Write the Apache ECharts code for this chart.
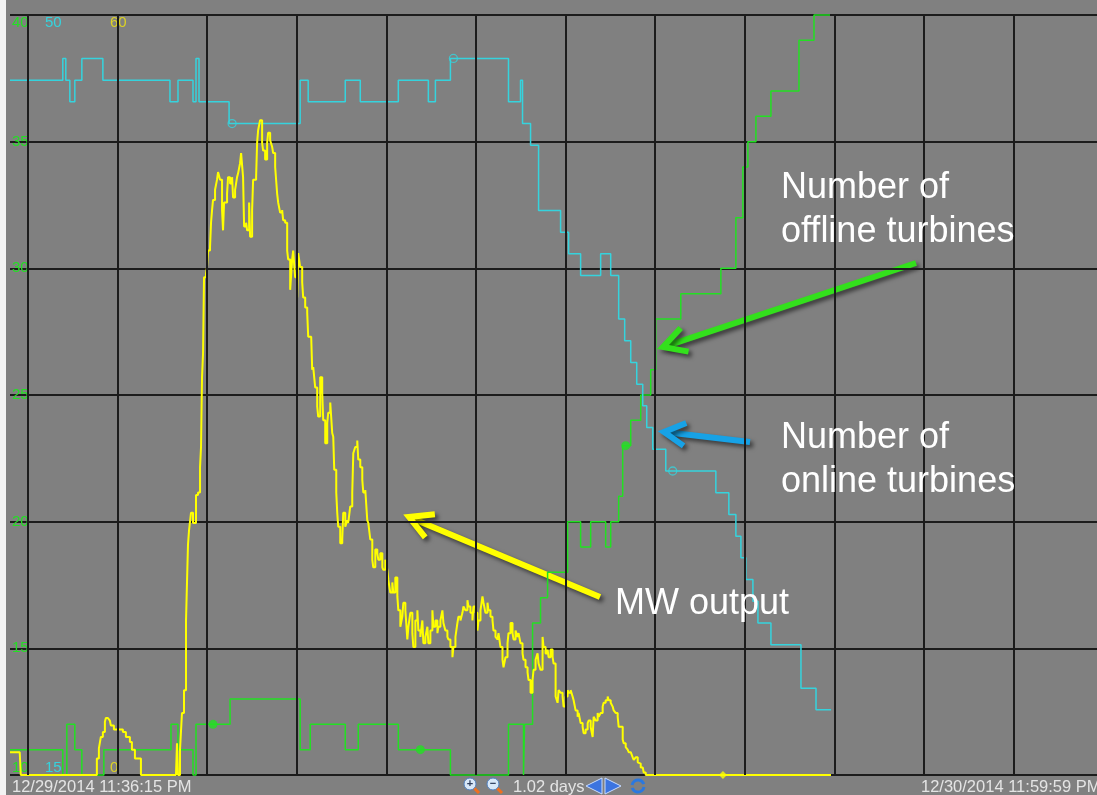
<!DOCTYPE html>
<html><head><meta charset="utf-8">
<script src="https://cdn.jsdelivr.net/npm/echarts@6/dist/echarts.min.js"></script>
<style>html,body{margin:0;padding:0;background:#fff;}#c{width:1097px;height:795px;}</style>
</head><body><div id="c"></div>
<script>
// x values: hours since 12/30/2014 00:00 (visible part of the 1.02-day window)
const timeRange = [-0.396, 23.856];
const gridHours = [0, 2, 4, 6, 8, 10, 12, 14, 16, 18, 20, 22];
const offlineTicks = [10, 40, 5];   // min, max, step (green axis)
const onlineTicks = [15, 50];       // cyan axis
const mwTicks = [0, 60];            // yellow axis
const startLabel = '12/29/2014 11:36:15 PM';
const endLabel = '12/30/2014 11:59:59 PM';
const spanLabel = '1.02 days';

// Number of online turbines (step, value holds until next point)
const onlineTurbines = [
[-0.396,47],[0.782,48],[0.849,47],[0.939,46],[1.050,47],[1.207,48],[1.676,47],[3.173,46],[3.352,47],
[3.687,46],[3.754,48],[3.821,46],[4.492,45],[6.078,47],[6.257,46],[7.084,47],[7.419,46],[8.268,47],
[8.938,46],[9.095,47],[9.430,48],[10.726,46],[10.994,47],[11.039,45],[11.218,44],[11.397,41],
[11.888,40],[12.067,39],[12.335,38],[12.782,39],[13.006,38],[13.184,36],[13.318,35],[13.453,34],
[13.587,33],[13.721,32],[13.810,31],[13.944,30],[14.235,29],[15.352,28],[15.642,27],[15.799,26],
[15.911,25],[16.022,24],[16.179,23],[16.291,22],[16.581,21],[17.251,19],[17.587,18],[17.922,18]
];
// Number of offline turbines
const offlineTurbines = [
[-0.396,11],[0.782,10],[0.872,12],[1.050,11],[1.207,10],[1.698,11],[3.196,12],[3.352,11],[3.687,10],
[3.754,12],[4.514,13],[6.078,11],[6.302,12],[7.084,11],[7.374,12],[8.268,11],[9.430,10],[10.726,12],
[11.061,10],[11.084,12],[11.263,16],[11.441,17],[11.598,18],[12.045,20],[12.335,19],[12.559,20],
[12.894,19],[13.006,20],[13.184,21],[13.274,23],[13.453,24],[13.676,25],[13.899,26],[14.011,28],
[14.570,29],[15.464,30],[15.799,32],[15.955,34],[16.067,35],[16.246,36],[16.581,37],[17.207,39],
[17.542,40],[17.899,40]
];
// MW output
const mwOutput = [
[-0.396,1.8],[-0.179,1.8],[-0.156,0],[1.497,0],[1.542,1.3],[1.587,2.1],[1.631,3.0],[1.676,3.4],[1.721,4.2],[1.743,4.5],[1.788,4.6],[1.832,4.3],[1.855,3.9],[1.922,3.6],[1.966,3.6],[2.056,3.6],[2.123,3.4],[2.190,3.0],[2.279,2.6],[2.324,2.0],[2.391,1.3],[2.458,1.3],[2.525,0],[3.307,0],[3.330,2.5],[3.352,0],[3.397,2.0],[3.441,4.9],[3.486,6.7],[3.531,12.2],[3.575,18.2],[3.598,19.3],[3.642,20.7],[3.687,19.9],[3.754,22.1],[3.799,22.3],[3.844,24.3],[3.866,25.9],[3.888,31.4],[3.911,33.3],[3.933,39.3],[3.978,39.6],[4.000,40.1],[4.022,41.4],[4.067,41.7],[4.089,43.6],[4.112,44.6],[4.134,45.4],[4.179,46.2],[4.223,47.0],[4.246,47.6],[4.290,47.0],[4.335,44.6],[4.357,43.0],[4.380,45.2],[4.447,45.9],[4.469,47.2],[4.514,46.7],[4.559,47.2],[4.581,45.6],[4.626,46.2],[4.670,47.2],[4.693,47.5],[4.737,48.3],[4.760,49.1],[4.804,47.2],[4.827,43.3],[4.872,43.6],[4.894,43.0],[4.939,45.2],[4.961,42.5],[5.006,44.6],[5.028,47.0],[5.095,47.2],[5.117,49.9],[5.140,50.9],[5.184,51.7],[5.229,49.9],[5.251,49.3],[5.296,48.6],[5.341,49.9],[5.363,50.7],[5.408,50.1],[5.452,49.6],[5.475,49.1],[5.520,48.0],[5.564,45.9],[5.587,45.2],[5.631,44.4],[5.676,44.6],[5.698,43.8],[5.743,43.6],[5.788,41.4],[5.810,40.7],[5.855,38.3],[5.899,40.7],[5.922,41.4],[5.966,39.3],[6.011,37.7],[6.034,41.2],[6.078,40.1],[6.123,38.9],[6.145,37.7],[6.190,36.9],[6.235,36.5],[6.257,34.6],[6.324,34.6],[6.346,32.0],[6.369,32.2],[6.413,30.6],[6.458,29.1],[6.480,28.3],[6.525,31.4],[6.570,30.2],[6.592,28.0],[6.637,26.2],[6.682,27.8],[6.704,28.6],[6.749,29.4],[6.793,27.0],[6.816,26.7],[6.838,24.1],[6.883,22.3],[6.905,20.7],[6.927,19.6],[6.972,18.3],[7.017,18.6],[7.039,20.7],[7.084,19.6],[7.128,20.1],[7.151,19.9],[7.195,21.2],[7.240,22.3],[7.263,25.4],[7.307,25.9],[7.352,26.4],[7.374,24.9],[7.419,24.3],[7.464,23.3],[7.486,22.3],[7.531,22.5],[7.575,20.1],[7.598,19.9],[7.642,18.6],[7.687,17.0],[7.709,16.4],[7.754,17.8],[7.799,17.5],[7.821,17.0],[7.866,17.5],[7.911,16.4],[7.933,16.2],[7.978,17.0],[8.022,16.2],[8.045,15.4],[8.089,14.4],[8.134,15.2],[8.156,14.4],[8.201,15.6],[8.246,14.1],[8.268,13.0],[8.313,11.7],[8.357,12.5],[8.380,13.6],[8.425,13.0],[8.469,10.7],[8.492,11.7],[8.536,12.8],[8.581,11.2],[8.603,10.1],[8.648,12.2],[8.693,13.0],[8.715,11.4],[8.760,10.9],[8.804,12.2],[8.827,10.4],[8.872,10.9],[8.916,11.7],[8.938,10.4],[8.983,11.4],[9.028,13.0],[9.050,11.7],[9.095,12.2],[9.140,11.2],[9.162,11.7],[9.207,12.2],[9.251,13.0],[9.274,12.0],[9.318,11.4],[9.363,10.9],[9.385,10.7],[9.430,10.1],[9.475,9.3],[9.497,10.1],[9.542,10.9],[9.586,12.0],[9.609,12.5],[9.654,12.2],[9.698,12.8],[9.721,13.3],[9.765,13.0],[9.810,13.8],[9.832,13.3],[9.877,12.8],[9.922,12.2],[9.944,13.3],[9.989,12.8],[10.034,11.4],[10.056,12.2],[10.101,13.0],[10.145,14.1],[10.168,13.6],[10.212,12.8],[10.257,13.6],[10.279,13.0],[10.324,12.5],[10.369,12.2],[10.391,11.4],[10.436,10.9],[10.480,10.7],[10.503,11.2],[10.547,10.1],[10.592,9.1],[10.615,8.5],[10.659,9.3],[10.704,10.4],[10.726,11.2],[10.771,12.0],[10.816,11.2],[10.838,10.7],[10.883,11.4],[10.927,10.9],[10.950,11.2],[10.994,10.4],[11.039,9.6],[11.061,9.1],[11.106,8.5],[11.151,8.1],[11.173,7.5],[11.218,6.5],[11.263,7.5],[11.285,8.3],[11.330,9.1],[11.374,9.6],[11.397,8.8],[11.441,8.3],[11.486,10.9],[11.508,10.1],[11.553,9.6],[11.598,9.9],[11.620,9.3],[11.665,9.9],[11.710,9.3],[11.732,8.8],[11.777,6.2],[11.821,5.7],[11.844,6.7],[11.888,6.5],[11.933,6.2],[11.955,5.4],[12.000,6.2],[12.045,6.7],[12.067,6.5],[12.112,6.7],[12.156,6.2],[12.179,5.9],[12.223,5.1],[12.268,4.6],[12.291,4.9],[12.335,4.1],[12.380,3.8],[12.402,3.3],[12.447,3.6],[12.492,4.1],[12.514,4.3],[12.559,3.8],[12.603,3.0],[12.626,4.6],[12.670,4.3],[12.715,4.9],[12.738,4.6],[12.782,4.9],[12.827,5.4],[12.849,5.7],[12.894,5.9],[12.939,6.2],[12.961,5.9],[13.006,5.7],[13.050,5.4],[13.073,5.1],[13.117,4.9],[13.162,4.6],[13.184,3.8],[13.229,3.8],[13.274,2.8],[13.296,2.5],[13.341,2.2],[13.385,2.0],[13.408,1.8],[13.453,1.7],[13.497,1.4],[13.520,1.2],[13.564,1.4],[13.609,1.0],[13.631,0.9],[13.676,0.6],[13.721,0.6],[13.743,0.2],[13.788,0],[17.921,0]
];
const onlineMarkers = [[4.559,45],[9.497,48],[14.39,29]];
const offlineMarkers = [[4.134,12],[8.760,11],[13.341,23]];
const mwMarkers = [[15.51,0]];

const annotations = [
  {text:'Number of\noffline turbines'},
  {text:'Number of\nonline turbines'},
  {text:'MW output'}
];

const FONT = 'Liberation Sans, Arial, sans-serif';
const GREEN = '#22e022', CYAN = '#35d3dd', YEL = '#ffff00';
const GRIDC = '#1c1c1c';

function arrow(x1, y1, x2, y2, color, w, L, sp) {
  const a = Math.atan2(y1 - y2, x1 - x2);
  const p1 = [x2 + L * Math.cos(a + sp), y2 + L * Math.sin(a + sp)];
  const p2 = [x2 + L * Math.cos(a - sp), y2 + L * Math.sin(a - sp)];
  const sh = {shadowBlur: 4, shadowColor: 'rgba(0,0,0,0.55)', shadowOffsetX: 3, shadowOffsetY: 3};
  return {type: 'group', z: 100, children: [
    {type: 'line', shape: {x1: x1, y1: y1, x2: x2 + 3 * Math.cos(a), y2: y2 + 3 * Math.sin(a)}, style: Object.assign({stroke: color, lineWidth: w, lineCap: 'butt'}, sh)},
    {type: 'polyline', shape: {points: [p1, [x2, y2], p2]}, style: Object.assign({stroke: color, lineWidth: w, fill: null, lineJoin: 'miter', lineCap: 'butt'}, sh)}
  ]};
}

const chart = echarts.init(document.getElementById('c'), null, {renderer: 'canvas'});
const textStyle = {fill: '#ffffff', font: '36px ' + FONT};
const option = {
  backgroundColor: '#808080',
  animation: false,
  grid: {left: 10, top: 15, right: 0, bottom: 20, containLabel: false},
  xAxis: {type: 'value', min: timeRange[0], max: timeRange[1], show: false},
  yAxis: [
    {type: 'value', min: offlineTicks[0], max: offlineTicks[1], interval: offlineTicks[2], position: 'left',
     axisLine: {show: true, lineStyle: {color: GRIDC, width: 2}}, axisTick: {show: false},
     splitLine: {show: true, lineStyle: {color: GRIDC, width: 2}},
     axisLabel: {inside: true, margin: 2, color: GREEN, fontSize: 15, fontFamily: FONT,
       verticalAlignMaxLabel: 'top', verticalAlignMinLabel: 'bottom'}},
    {type: 'value', min: onlineTicks[0], max: onlineTicks[1], interval: onlineTicks[1] - onlineTicks[0], position: 'left',
     axisLine: {show: false}, axisTick: {show: false}, splitLine: {show: false},
     axisLabel: {inside: true, margin: 35, color: CYAN, fontSize: 15, fontFamily: FONT,
       verticalAlignMaxLabel: 'top', verticalAlignMinLabel: 'bottom'}},
    {type: 'value', min: mwTicks[0], max: mwTicks[1], interval: mwTicks[1] - mwTicks[0], position: 'left',
     axisLine: {show: false}, axisTick: {show: false}, splitLine: {show: false},
     axisLabel: {inside: true, margin: 100, color: '#dcd224', fontSize: 15, fontFamily: FONT,
       verticalAlignMaxLabel: 'top', verticalAlignMinLabel: 'bottom'}}
  ],
  series: [
    {type: 'line', name: 'grid', data: [], z: 1, silent: true,
     markLine: {silent: true, symbol: 'none', label: {show: false}, animation: false,
       lineStyle: {color: GRIDC, width: 2, type: 'solid'},
       data: gridHours.map(h => ({xAxis: h}))}},
    {type: 'line', name: 'Offline turbines', yAxisIndex: 0, data: offlineTurbines, step: 'end', showSymbol: false,
     clip: false, lineStyle: {color: GREEN, width: 1.5}, z: 3},
    {type: 'line', name: 'Online turbines', yAxisIndex: 1, data: onlineTurbines, step: 'end', showSymbol: false,
     clip: false, lineStyle: {color: CYAN, width: 1.5}, z: 3},
    {type: 'line', name: 'MW output', yAxisIndex: 2, data: mwOutput, step: 'end', showSymbol: false,
     clip: false, lineStyle: {color: YEL, width: 2}, z: 4},
    {type: 'scatter', yAxisIndex: 1, data: onlineMarkers, symbol: 'circle', symbolSize: 8, z: 5,
     itemStyle: {color: 'rgba(0,0,0,0)', borderColor: CYAN, borderWidth: 1.3}},
    {type: 'scatter', yAxisIndex: 0, data: offlineMarkers, symbol: 'circle', symbolSize: 9, z: 5,
     itemStyle: {color: GREEN}},
    {type: 'scatter', yAxisIndex: 2, data: mwMarkers, symbol: 'diamond', symbolSize: 8, z: 5,
     itemStyle: {color: YEL}}
  ],
  graphic: [
    {type: 'rect', shape: {x: 0, y: 0, width: 6, height: 795}, style: {fill: '#f3f3f3'}, z: 50},
    {type: 'text', x: 12, y: 787, style: {text: startLabel, fill: '#e4e4e4', font: '16.5px ' + FONT, textVerticalAlign: 'middle'}, z: 50},
    {type: 'text', x: 921, y: 787, style: {text: endLabel, fill: '#e4e4e4', font: '16.5px ' + FONT, textVerticalAlign: 'middle'}, z: 50},
    {type: 'text', x: 513, y: 787, style: {text: spanLabel, fill: '#e4e4e4', font: '16.5px ' + FONT, textVerticalAlign: 'middle'}, z: 50},
    // zoom-in / zoom-out icons
    {type: 'line', shape: {x1: 474, y1: 788, x2: 479, y2: 793}, style: {stroke: '#f07020', lineWidth: 3}, z: 50},
    {type: 'circle', shape: {cx: 470, cy: 784, r: 6}, style: {fill: '#d8e8f8', stroke: '#5080c0', lineWidth: 1}, z: 51},
    {type: 'text', x: 470, y: 784, style: {text: '+', fill: '#304060', font: 'bold 11px ' + FONT, textAlign: 'center', textVerticalAlign: 'middle'}, z: 52},
    {type: 'line', shape: {x1: 497, y1: 788, x2: 502, y2: 793}, style: {stroke: '#f07020', lineWidth: 3}, z: 50},
    {type: 'circle', shape: {cx: 493, cy: 784, r: 6}, style: {fill: '#d8e8f8', stroke: '#5080c0', lineWidth: 1}, z: 51},
    {type: 'text', x: 493, y: 784, style: {text: '−', fill: '#304060', font: 'bold 11px ' + FONT, textAlign: 'center', textVerticalAlign: 'middle'}, z: 52},
    // nav triangles
    {type: 'polygon', shape: {points: [[586, 786], [602, 778], [602, 794]]}, style: {fill: '#3c74e0', stroke: '#c8dcff', lineWidth: 1}, z: 50},
    {type: 'polygon', shape: {points: [[605, 778], [605, 794], [621, 786]]}, style: {fill: '#3c74e0', stroke: '#c8dcff', lineWidth: 1}, z: 50},
    {type: 'arc', shape: {cx: 638, cy: 786, r: 6, startAngle: Math.PI * 1.05, endAngle: Math.PI * 1.9}, style: {stroke: '#2a78e0', lineWidth: 3, fill: null}, z: 50},
    {type: 'arc', shape: {cx: 638, cy: 786, r: 6, startAngle: Math.PI * 0.05, endAngle: Math.PI * 0.9}, style: {stroke: '#2a78e0', lineWidth: 3, fill: null}, z: 50},
    // annotations
    {type: 'text', x: 781, y: 166, z: 100, style: Object.assign({text: annotations[0].text, lineHeight: 44}, textStyle)},
    {type: 'text', x: 781, y: 416, z: 100, style: Object.assign({text: annotations[1].text, lineHeight: 44}, textStyle)},
    {type: 'text', x: 615, y: 582, z: 100, style: Object.assign({text: annotations[2].text, lineHeight: 44}, textStyle)},
    arrow(916, 263, 663, 347, '#33e01c', 6, 26, 0.5),
    arrow(750, 442, 664, 432, '#17a2e6', 6, 24, 0.5),
    arrow(600, 597, 409, 517, '#ffff00', 6, 26, 0.5)
  ]
};
chart.setOption(option);
</script></body></html>
